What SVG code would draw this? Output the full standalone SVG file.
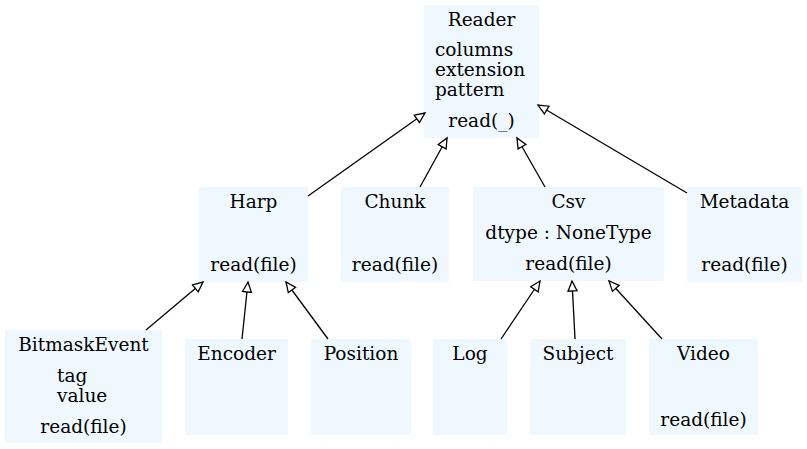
<svg xmlns="http://www.w3.org/2000/svg" width="807" height="449" viewBox="0 0 807 449">
<style>
.box{fill:#f0f8ff;stroke:none}
text{font-family:"DejaVu Serif","Liberation Serif",serif;font-size:18.5px;fill:#000}
.c{text-anchor:middle}
.e{fill:none;stroke:#000;stroke-width:1.3}
</style>
<defs>
<marker id="tri" markerUnits="userSpaceOnUse" markerWidth="14" markerHeight="12" refX="11" refY="6" orient="auto">
<path d="M1,1.5 L11,6 L1,10.5 Z" fill="#fff" stroke="#000" stroke-width="1.3"/>
</marker>
</defs>
<rect width="807" height="449" fill="#fff"/>
<g id="Reader">
<rect class="box" x="424" y="5" width="115" height="133"/>
<text class="c" x="481.5" y="26">Reader</text>
<text x="435" y="56">columns</text>
<text x="435" y="76">extension</text>
<text x="435" y="96">pattern</text>
<text class="c" x="481.5" y="127">read(_)</text>
</g>
<g id="Harp">
<rect class="box" x="199" y="187" width="109" height="95"/>
<text class="c" x="253.5" y="208">Harp</text>
<text class="c" x="253.5" y="271">read(file)</text>
</g>
<g id="Chunk">
<rect class="box" x="341" y="187" width="108" height="95"/>
<text class="c" x="395" y="208">Chunk</text>
<text class="c" x="395" y="271">read(file)</text>
</g>
<g id="Csv">
<rect class="box" x="473" y="187" width="191" height="94"/>
<text class="c" x="568.5" y="208">Csv</text>
<text class="c" x="568.5" y="239">dtype : NoneType</text>
<text class="c" x="568.5" y="270">read(file)</text>
</g>
<g id="Metadata">
<rect class="box" x="687" y="187" width="115" height="95"/>
<text class="c" x="744.5" y="208">Metadata</text>
<text class="c" x="744.5" y="271">read(file)</text>
</g>
<g id="BitmaskEvent">
<rect class="box" x="5" y="330" width="157" height="113"/>
<text class="c" x="83.5" y="351">BitmaskEvent</text>
<text x="57" y="382">tag</text>
<text x="57" y="402">value</text>
<text class="c" x="83.5" y="433">read(file)</text>
</g>
<g id="Encoder">
<rect class="box" x="185" y="339" width="103" height="96"/>
<text class="c" x="236.5" y="360">Encoder</text>
</g>
<g id="Position">
<rect class="box" x="311" y="339" width="100" height="96"/>
<text class="c" x="361" y="360">Position</text>
</g>
<g id="Log">
<rect class="box" x="433" y="339" width="74" height="96"/>
<text class="c" x="470" y="360">Log</text>
</g>
<g id="Subject">
<rect class="box" x="530" y="339" width="96" height="96"/>
<text class="c" x="578" y="360">Subject</text>
</g>
<g id="Video">
<rect class="box" x="649" y="339" width="109" height="96"/>
<text class="c" x="703.5" y="360">Video</text>
<text class="c" x="703.5" y="426">read(file)</text>
</g>
<g id="edges">
<path class="e" marker-end="url(#tri)" d="M308,196 L425,113"/>
<path class="e" marker-end="url(#tri)" d="M420,187 L447,138"/>
<path class="e" marker-end="url(#tri)" d="M545,187 L517,138"/>
<path class="e" marker-end="url(#tri)" d="M687,193 L538,105"/>
<path class="e" marker-end="url(#tri)" d="M146,330 L203,282"/>
<path class="e" marker-end="url(#tri)" d="M242,339 L248,282"/>
<path class="e" marker-end="url(#tri)" d="M328,339 L286,282"/>
<path class="e" marker-end="url(#tri)" d="M501,339 L540,281"/>
<path class="e" marker-end="url(#tri)" d="M575,339 L572,281"/>
<path class="e" marker-end="url(#tri)" d="M662,339 L609,281"/>
</g>
</svg>
